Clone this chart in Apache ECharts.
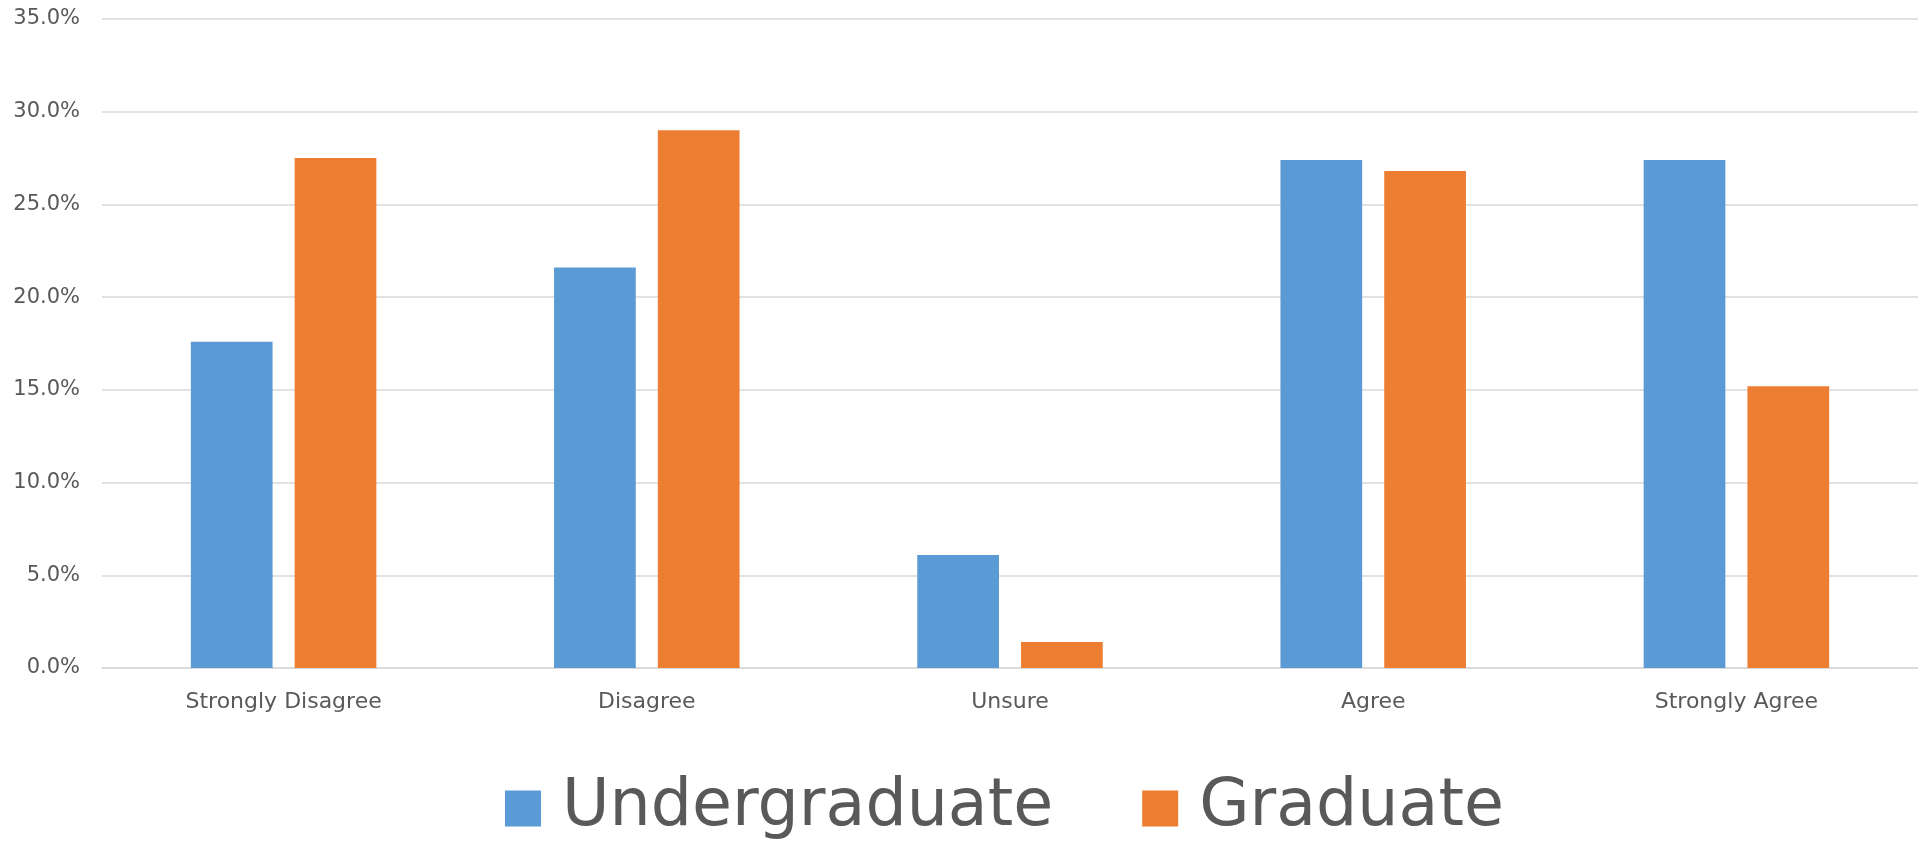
<!DOCTYPE html>
<html>
<head>
<meta charset="utf-8">
<script src="https://cdn.jsdelivr.net/npm/echarts@6/dist/echarts.min.js"></script>
<style>
html,body{margin:0;padding:0;background:#fff;}
#chart{width:1918px;height:842px;}
</style>
</head>
<body>
<div id="chart"></div>
<script>
var categories = ['Strongly Disagree', 'Disagree', 'Unsure', 'Agree', 'Strongly Agree'];
var seriesNames = ['Undergraduate', 'Graduate'];
var undergraduate = [17.6, 21.6, 6.1, 27.4, 27.4];
var graduate = [27.5, 29.0, 1.4, 26.8, 15.2];
var yTicks = [0, 5, 10, 15, 20, 25, 30, 35];

var FONT = '"DejaVu Sans", "Century Gothic", sans-serif';
var chart = echarts.init(document.getElementById('chart'));
chart.setOption({
  animation: false,
  color: ['#5B9BD5', '#ED7D31'],
  textStyle: { fontFamily: FONT },
  grid: { left: 102, right: 0, top: 19, bottom: 174, containLabel: false },
  legend: {
    data: seriesNames,
    left: 500,
    top: 771,
    itemWidth: 36,
    itemHeight: 36,
    itemGap: 89,
    icon: 'rect',
    textStyle: { fontSize: 65, color: '#595959', fontFamily: FONT, padding: [0, 0, 0, 16], lineHeight: 36 }
  },
  xAxis: {
    type: 'category',
    data: categories,
    axisLine: { show: true, lineStyle: { color: '#D9D9D9', width: 1.5 } },
    axisTick: { show: false },
    axisLabel: { fontSize: 22, color: '#595959', margin: 23, fontFamily: FONT }
  },
  yAxis: {
    type: 'value',
    min: yTicks[0],
    max: yTicks[yTicks.length - 1],
    interval: 5,
    axisLine: { show: false },
    axisTick: { show: false },
    splitLine: { lineStyle: { color: '#D9D9D9', width: 1.5 } },
    axisLabel: {
      fontSize: 21, color: '#595959', margin: 22, fontFamily: FONT,
      formatter: function (v) { return v.toFixed(1) + '%'; }
    }
  },
  series: [
    { name: seriesNames[0], type: 'bar', data: undergraduate, barWidth: '22.5%', barGap: '27%' },
    { name: seriesNames[1], type: 'bar', data: graduate, barWidth: '22.5%', barGap: '27%' }
  ]
});
</script>
</body>
</html>
